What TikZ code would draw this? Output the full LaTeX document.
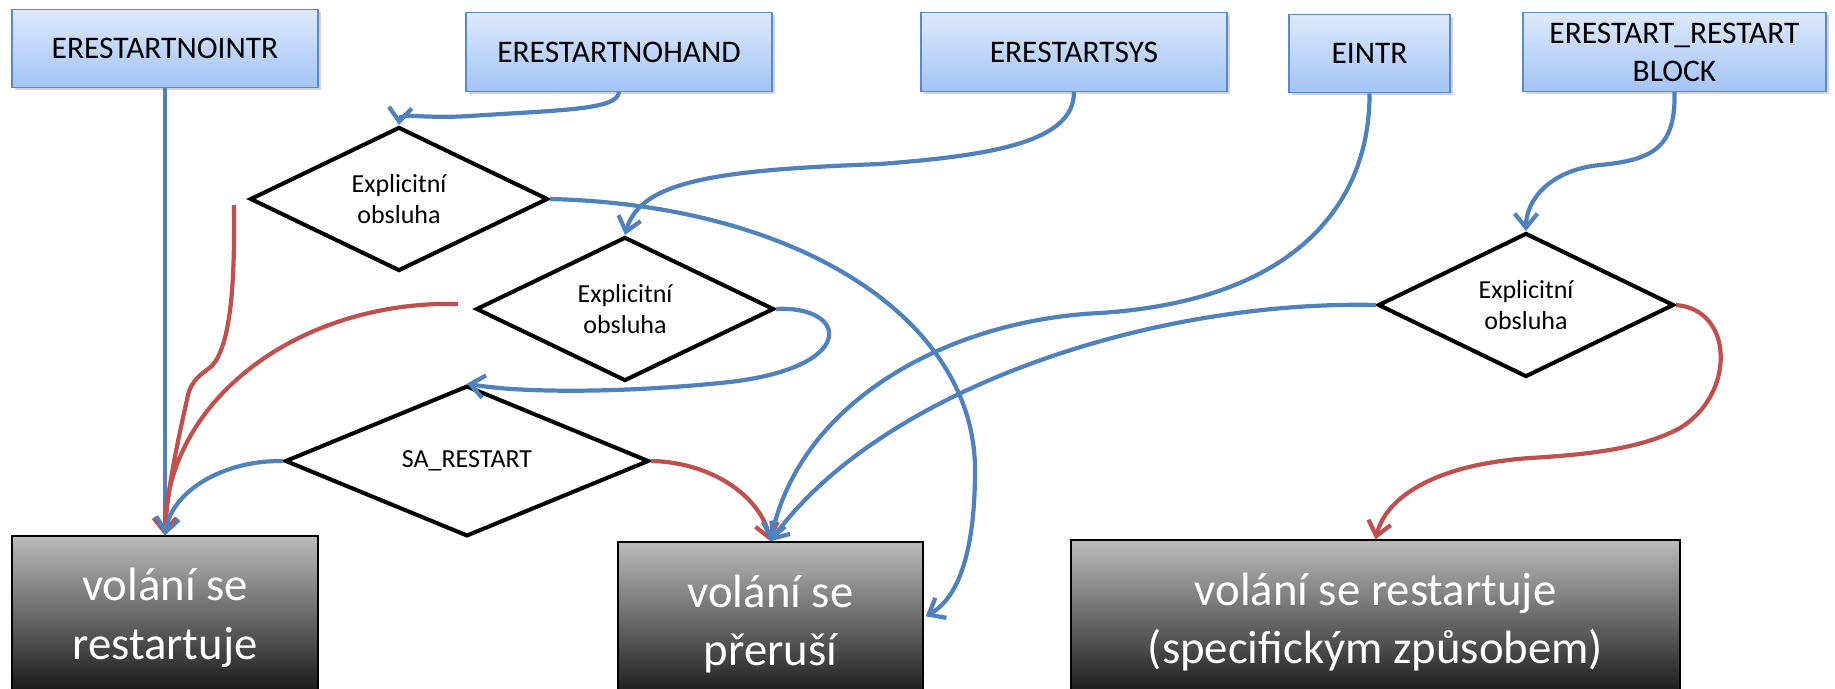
\documentclass[tikz,border=0pt]{standalone}
\usepackage{fontspec}
\setmainfont{Carlito}
\definecolor{LineBlue}{RGB}{79,129,189}
\definecolor{LineRed}{RGB}{192,80,77}
\definecolor{BoxTop}{RGB}{221,233,252}
\definecolor{BoxBottom}{RGB}{163,196,246}
\definecolor{BoxEdge}{RGB}{88,138,205}
\definecolor{CallTop}{RGB}{187,187,187}
\definecolor{CallBottom}{RGB}{16,16,16}
\usetikzlibrary{shapes,arrows.meta,positioning,calc,shadows}

\begin{document}
\begin{tikzpicture}[x=0.02cm, y=-0.02cm,
    errbox/.style={draw=BoxEdge, line width=0.8pt, top color=BoxTop, bottom color=BoxBottom, minimum height=1.57cm, align=center, font=\fontsize{17.9}{21.7}\selectfont, drop shadow={shadow xshift=1.5pt, shadow yshift=-1.5pt, opacity=0.35}},
    decision/.style={diamond, draw=black, line width=2.3pt, fill=white, inner sep=0pt, align=center, font=\fontsize{14.8}{17.6}\selectfont},
    result/.style={draw=black, line width=0.8pt, top color=CallTop, bottom color=CallBottom, text=white, minimum height=3.28cm, align=center, font=\fontsize{26.6}{33.5}\selectfont},
    flowblue/.style={draw=LineBlue, line width=2.4pt, -{Straight Barb[length=8pt,width=13pt]}},
    flowred/.style={flowblue, draw=LineRed}]
    \clip (0,0) rectangle (1835,689);
    % error codes
    \node[errbox, minimum width=6.12cm] (nointr) at (165,48.5) {ERESTARTNOINTR};
    \node[errbox, minimum width=6.12cm] (nohand) at (619,52) {ERESTARTNOHAND};
    \node[errbox, minimum width=6.12cm] (sys) at (1074,52) {ERESTARTSYS};
    \node[errbox, minimum width=3.22cm] (eintr) at (1369.5,53.5) {EINTR};
    \node[errbox, minimum width=6.06cm] (block) at (1674.5,52) {ERESTART\_RESTART\\BLOCK};
    % decisions
    \node[decision, minimum width=5.96cm, minimum height=2.72cm] (hand1) at (399,199) {Explicitní\\obsluha};
    \node[decision, minimum width=5.96cm, minimum height=2.68cm] (hand2) at (625,309) {Explicitní\\obsluha};
    \node[decision, minimum width=7.28cm, minimum height=2.70cm] (sarestart) at (467,461) {SA\_RESTART};
    \node[decision, minimum width=5.92cm, minimum height=2.68cm] (hand3) at (1526,305) {Explicitní\\obsluha};
    % results
    \node[result, minimum width=6.12cm] (restart) at (165,618) {volání se\\restartuje};
    \node[result, minimum width=6.10cm] (interrupt) at (770.5,624) {volání se\\přeruší};
    \node[result, minimum width=12.18cm] (special) at (1375.5,622) {volání se restartuje\\(specifickým způsobem)};
    \coordinate (intrside) at ($(interrupt.north east)+(2,75)$);
    % ERESTARTNOINTR
    \draw[flowblue] (nointr) -- (restart);
    % ERESTARTNOHAND
    \draw[flowblue] (nohand.south) .. controls (618,110) and (560,110) .. (470,116) .. controls (420,119) and (400,112) .. (hand1.north);
    \draw[flowblue] (hand1.east) .. controls (800,205) and (975,320) .. (975,470) .. controls (975,560) and (955,600) .. (intrside);
    \draw[flowred] ($(hand1.west)+(-14,6)$) .. controls (235,290) and (230,345) .. (212,366) .. controls (200,375) and (192,380) .. (188,395) .. controls (178,440) and (167,490) .. (restart.north);
    % ERESTARTSYS
    \draw[flowblue] (sys.south) .. controls (1074,140) and (1000,155) .. (880,164) .. controls (720,170) and (640,180) .. (hand2.north);
    \draw[flowblue] (hand2.east) .. controls (850,305) and (860,370) .. (720,383) .. controls (620,393) and (520,393) .. (sarestart.north);
    \draw[flowred] ($(hand2.west)+(-16,-5)$) .. controls (300,300) and (165,400) .. (restart.north);
    \draw[flowblue] (sarestart.west) .. controls (225,460) and (172,490) .. (restart.north);
    \draw[flowred] (sarestart.east) .. controls (710,462) and (760,495) .. (interrupt.north);
    % EINTR
    \draw[flowblue] (eintr.south) .. controls (1370,200) and (1300,300) .. (1100,313) .. controls (950,320) and (800,400) .. (interrupt.north);
    % ERESTART_RESTART_BLOCK
    \draw[flowblue] (block.south) .. controls (1676,150) and (1650,160) .. (1600,165) .. controls (1550,170) and (1526,200) .. (hand3.north);
    \draw[flowblue] (hand3.west) .. controls (1150,300) and (880,390) .. (interrupt.north);
    \draw[flowred] (hand3.east) .. controls (1735,310) and (1735,395) .. (1680,428) .. controls (1640,450) and (1580,455) .. (1530,458) .. controls (1430,465) and (1385,500) .. (special.north);
\end{tikzpicture}
\end{document}
